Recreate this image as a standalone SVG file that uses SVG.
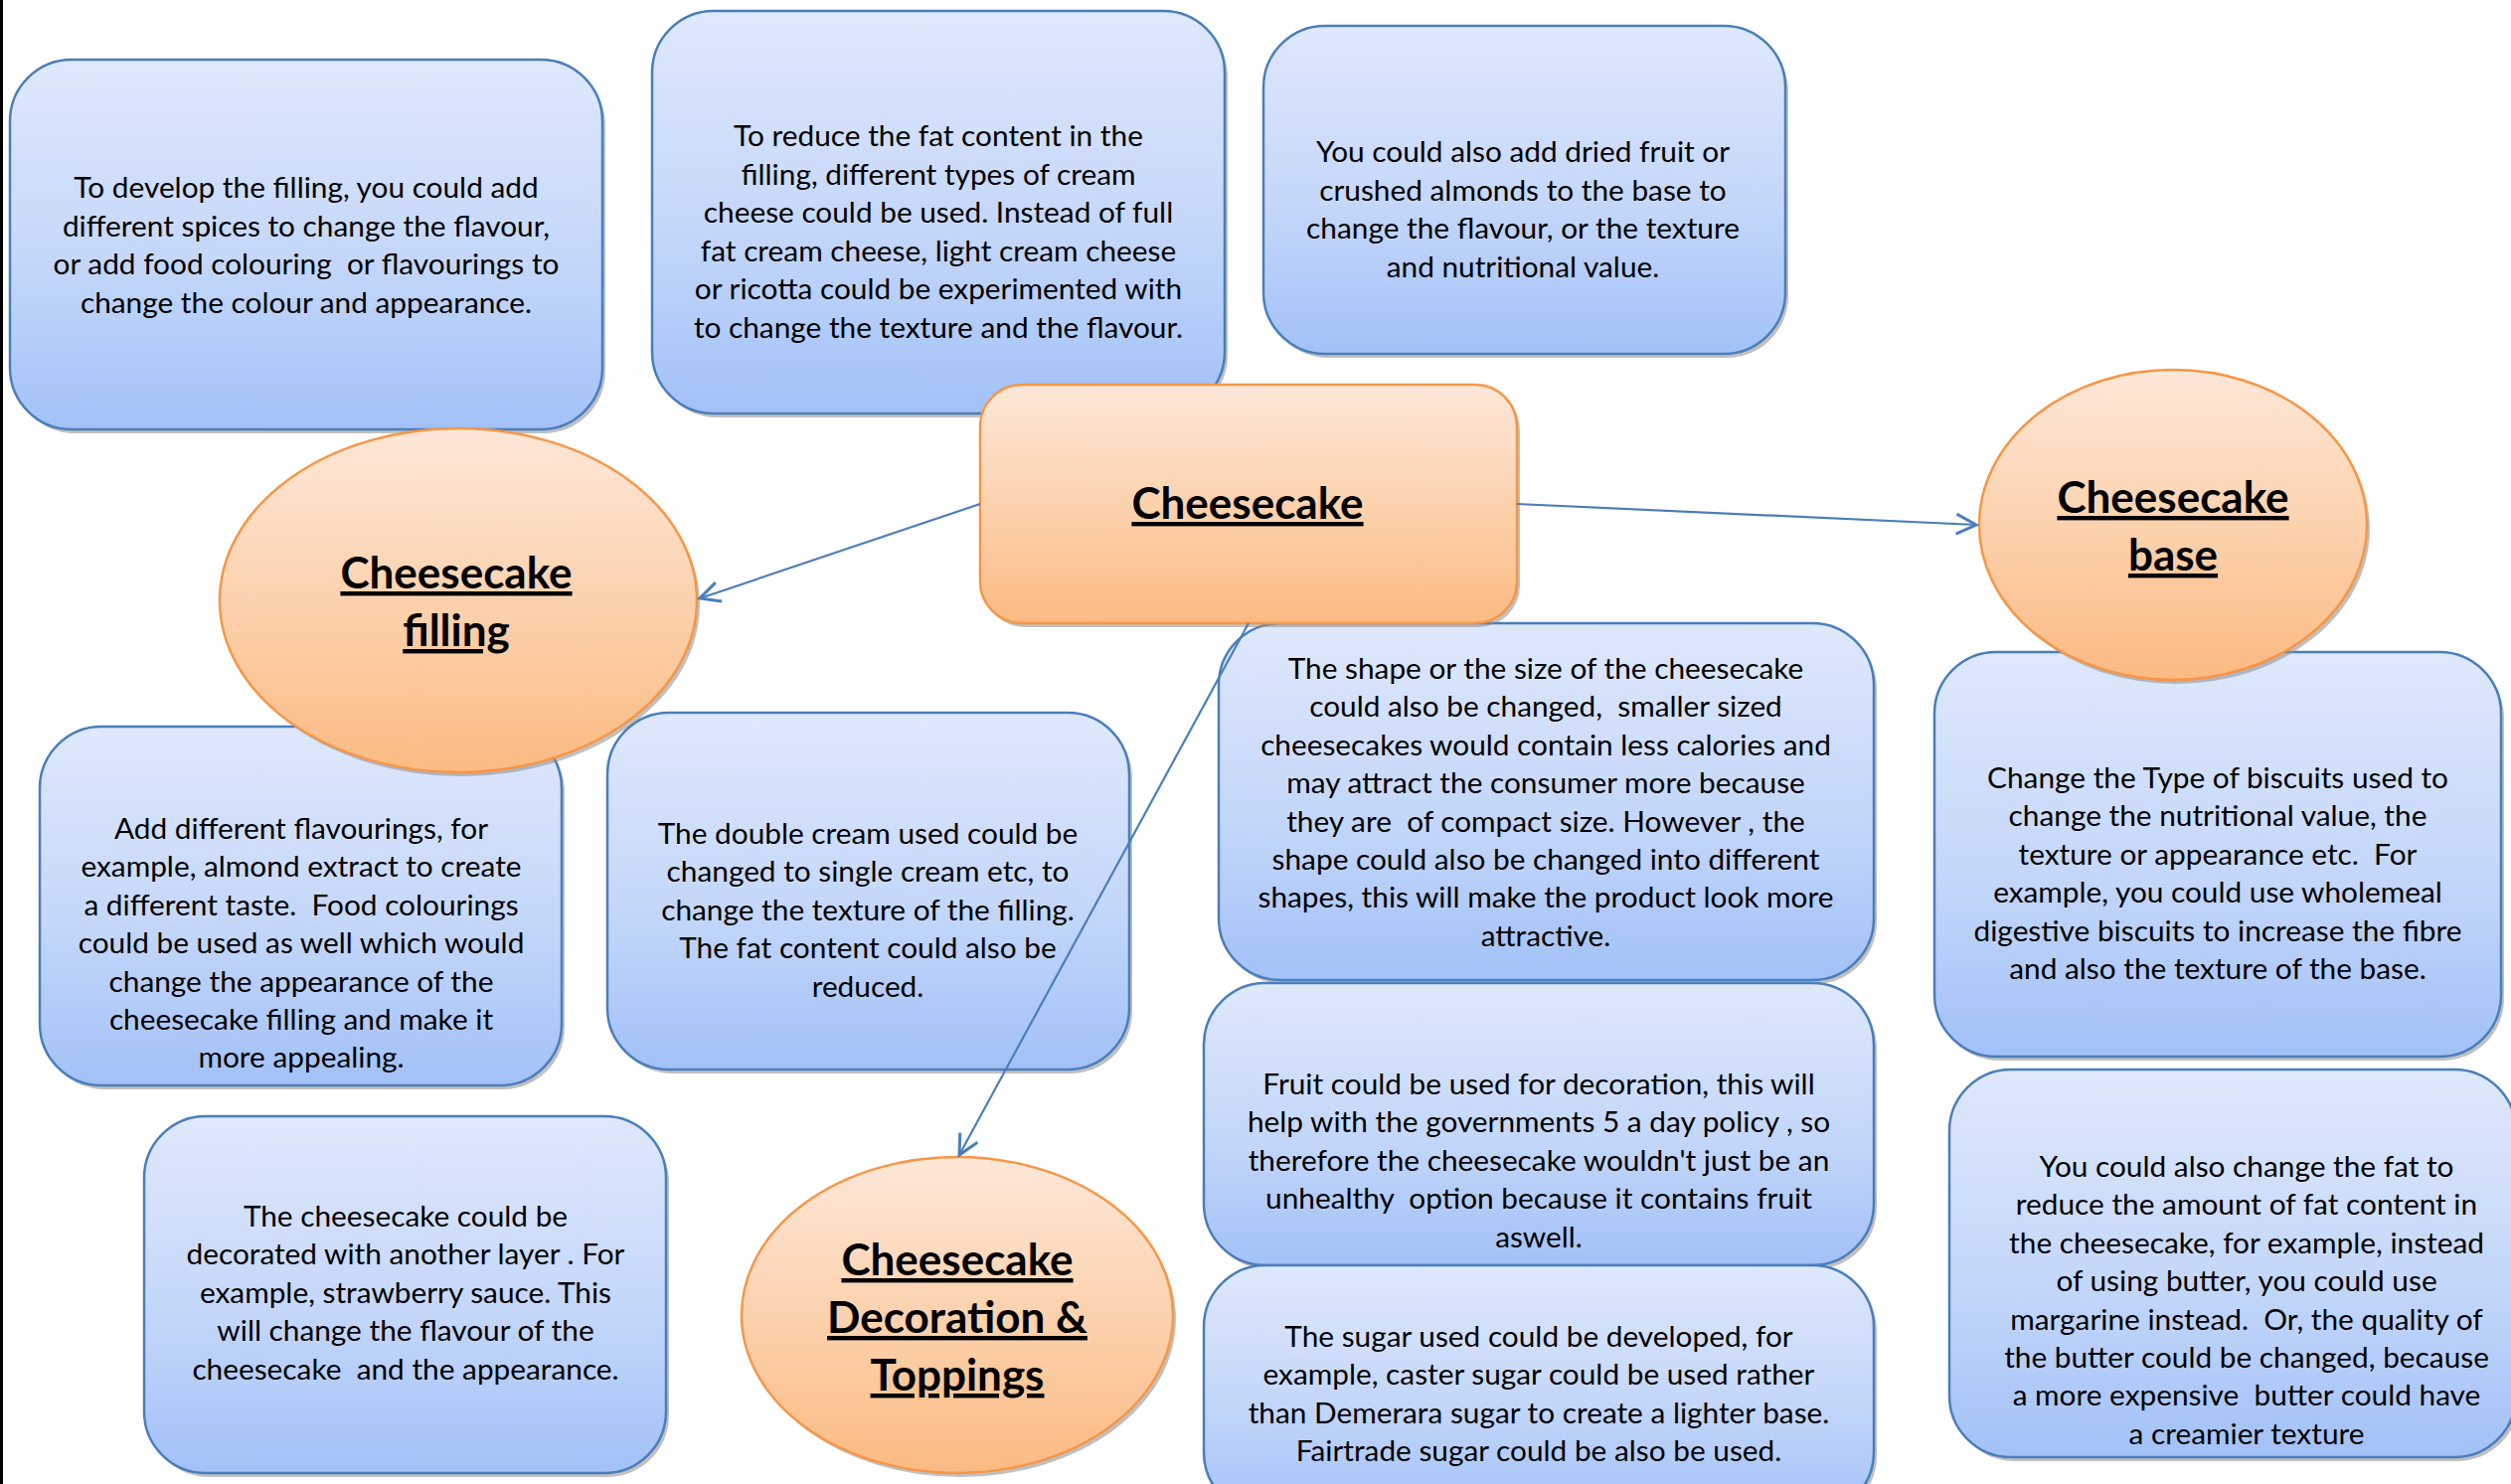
<svg xmlns="http://www.w3.org/2000/svg" width="2526" height="1493" viewBox="0 0 2526 1493">
<defs>
<linearGradient id="gb" x1="0" y1="0" x2="0" y2="1">
<stop offset="0" stop-color="#dfe8fb"/>
<stop offset="0.55" stop-color="#c4d7fa"/>
<stop offset="1" stop-color="#a2c1f7"/>
</linearGradient>
<linearGradient id="go" x1="0" y1="0" x2="0" y2="1">
<stop offset="0" stop-color="#fde7d8"/>
<stop offset="0.55" stop-color="#fcd0aa"/>
<stop offset="1" stop-color="#fbba82"/>
</linearGradient>
<marker id="arr" markerUnits="userSpaceOnUse" markerWidth="30" markerHeight="30" refX="22" refY="12" orient="auto" viewBox="0 0 30 24">
<path d="M2,2 L22,12 L2,22" fill="none" stroke="#4a7ebb" stroke-width="3"/>
</marker>
</defs>
<style>
.bx{fill:url(#gb);stroke:#4a7ebb;stroke-width:2.5}
.or{fill:url(#go);stroke:#f79646;stroke-width:2.5}
.sh{fill:#8c8c8c;opacity:0.55}
.t{font-family:Lato,"Liberation Sans",sans-serif;font-size:29.8px;fill:#000;text-anchor:middle;white-space:pre}
.h{font-family:Lato,"Liberation Sans",sans-serif;font-size:44px;font-weight:bold;fill:#000;text-anchor:middle;text-decoration:underline}
.cn{fill:none;stroke:#4a7ebb;stroke-width:2.2;marker-end:url(#arr)}
</style>
<rect width="2526" height="1493" fill="#fff"/>
<rect x="0" y="0" width="3" height="1493" fill="#000"/>

<g id="box-develop-filling">
<rect class="sh" x="13" y="64" width="596" height="372" rx="62"/>
<rect class="bx" x="10" y="60" width="596" height="372" rx="62"/>
<text class="t"><tspan x="308" y="199">To develop the filling, you could add</tspan><tspan x="308" y="237.6">different spices to change the flavour,</tspan><tspan x="308" y="276.2">or add food colouring  or flavourings to</tspan><tspan x="308" y="314.8">change the colour and appearance.</tspan></text>
</g>

<g id="box-reduce-fat">
<rect class="sh" x="659" y="15" width="576" height="405" rx="62"/>
<rect class="bx" x="656" y="11" width="576" height="405" rx="62"/>
<text class="t"><tspan x="944" y="147">To reduce the fat content in the</tspan><tspan x="944" y="185.6">filling, different types of cream</tspan><tspan x="944" y="224.2">cheese could be used. Instead of full</tspan><tspan x="944" y="262.8">fat cream cheese, light cream cheese</tspan><tspan x="944" y="301.4">or ricotta could be experimented with</tspan><tspan x="944" y="340">to change the texture and the flavour.</tspan></text>
</g>

<g id="box-dried-fruit">
<rect class="sh" x="1274" y="30" width="525" height="330" rx="62"/>
<rect class="bx" x="1271" y="26" width="525" height="330" rx="62"/>
<text class="t"><tspan x="1532" y="163">You could also add dried fruit or</tspan><tspan x="1532" y="201.6">crushed almonds to the base to</tspan><tspan x="1532" y="240.2">change the flavour, or the texture</tspan><tspan x="1532" y="278.8">and nutritional value.</tspan></text>
</g>

<g id="box-flavourings">
<rect class="sh" x="43" y="735" width="525" height="361" rx="62"/>
<rect class="bx" x="40" y="731" width="525" height="361" rx="62"/>
<text class="t"><tspan x="303" y="844">Add different flavourings, for</tspan><tspan x="303" y="882.4">example, almond extract to create</tspan><tspan x="303" y="920.8">a different taste.  Food colourings</tspan><tspan x="303" y="959.2">could be used as well which would</tspan><tspan x="303" y="997.6">change the appearance of the</tspan><tspan x="303" y="1036">cheesecake filling and make it</tspan><tspan x="303" y="1074.4">more appealing.</tspan></text>
</g>

<g id="box-double-cream">
<rect class="sh" x="614" y="721" width="525" height="359" rx="62"/>
<rect class="bx" x="611" y="717" width="525" height="359" rx="62"/>
<text class="t"><tspan x="873" y="849">The double cream used could be</tspan><tspan x="873" y="887.4">changed to single cream etc, to</tspan><tspan x="873" y="925.8">change the texture of the filling.</tspan><tspan x="873" y="964.2">The fat content could also be</tspan><tspan x="873" y="1002.6">reduced.</tspan></text>
</g>

<g id="box-decorated-layer">
<rect class="sh" x="148" y="1127" width="525" height="359" rx="62"/>
<rect class="bx" x="145" y="1123" width="525" height="359" rx="62"/>
<text class="t"><tspan x="408" y="1234">The cheesecake could be</tspan><tspan x="408" y="1272.4">decorated with another layer . For</tspan><tspan x="408" y="1310.8">example, strawberry sauce. This</tspan><tspan x="408" y="1349.2">will change the flavour of the</tspan><tspan x="408" y="1387.6">cheesecake  and the appearance.</tspan></text>
</g>

<g id="box-shape-size">
<rect class="sh" x="1229" y="631" width="659" height="359" rx="62"/>
<rect class="bx" x="1226" y="627" width="659" height="359" rx="62"/>
<text class="t"><tspan x="1555" y="683">The shape or the size of the cheesecake</tspan><tspan x="1555" y="721.4">could also be changed,  smaller sized</tspan><tspan x="1555" y="759.8">cheesecakes would contain less calories and</tspan><tspan x="1555" y="798.2">may attract the consumer more because</tspan><tspan x="1555" y="836.6">they are  of compact size. However , the</tspan><tspan x="1555" y="875">shape could also be changed into different</tspan><tspan x="1555" y="913.4">shapes, this will make the product look more</tspan><tspan x="1555" y="951.8">attractive.</tspan></text>
</g>

<g id="box-fruit-decoration">
<rect class="sh" x="1214" y="993" width="674" height="284" rx="62"/>
<rect class="bx" x="1211" y="989" width="674" height="284" rx="62"/>
<text class="t"><tspan x="1548" y="1101">Fruit could be used for decoration, this will</tspan><tspan x="1548" y="1139.4">help with the governments 5 a day policy , so</tspan><tspan x="1548" y="1177.8">therefore the cheesecake wouldn't just be an</tspan><tspan x="1548" y="1216.2">unhealthy  option because it contains fruit</tspan><tspan x="1548" y="1254.6">aswell.</tspan></text>
</g>

<g id="box-sugar">
<rect class="sh" x="1214" y="1277" width="674" height="250" rx="62"/>
<rect class="bx" x="1211" y="1273" width="674" height="250" rx="62"/>
<text class="t"><tspan x="1548" y="1355">The sugar used could be developed, for</tspan><tspan x="1548" y="1393.4">example, caster sugar could be used rather</tspan><tspan x="1548" y="1431.8">than Demerara sugar to create a lighter base.</tspan><tspan x="1548" y="1470.2">Fairtrade sugar could be also be used.</tspan></text>
</g>

<g id="box-biscuits">
<rect class="sh" x="1949" y="660" width="570" height="407" rx="62"/>
<rect class="bx" x="1946" y="656" width="570" height="407" rx="62"/>
<text class="t"><tspan x="2231" y="793">Change the Type of biscuits used to</tspan><tspan x="2231" y="831.4">change the nutritional value, the</tspan><tspan x="2231" y="869.8">texture or appearance etc.  For</tspan><tspan x="2231" y="908.2">example, you could use wholemeal</tspan><tspan x="2231" y="946.6">digestive biscuits to increase the fibre</tspan><tspan x="2231" y="985">and also the texture of the base.</tspan></text>
</g>

<g id="box-fat">
<rect class="sh" x="1964" y="1080" width="570" height="390" rx="62"/>
<rect class="bx" x="1961" y="1076" width="570" height="390" rx="62"/>
<text class="t"><tspan x="2260" y="1184">You could also change the fat to</tspan><tspan x="2260" y="1222.4">reduce the amount of fat content in</tspan><tspan x="2260" y="1260.8">the cheesecake, for example, instead</tspan><tspan x="2260" y="1299.2">of using butter, you could use</tspan><tspan x="2260" y="1337.6">margarine instead.  Or, the quality of</tspan><tspan x="2260" y="1376">the butter could be changed, because</tspan><tspan x="2260" y="1414.4">a more expensive  butter could have</tspan><tspan x="2260" y="1452.8">a creamier texture</tspan></text>
</g>

<g id="node-cheesecake">
<rect class="sh" x="989" y="391" width="540" height="240" rx="42"/>
<rect class="or" x="986" y="387" width="540" height="240" rx="42"/>
<text class="h" x="1255" y="522">Cheesecake</text>
</g>

<g id="node-filling">
<ellipse class="sh" cx="464" cy="608" rx="240" ry="173"/>
<ellipse class="or" cx="461" cy="604" rx="240" ry="173"/>
<text class="h"><tspan x="459" y="592">Cheesecake</tspan><tspan x="459" y="650">filling</tspan></text>
</g>

<g id="node-base">
<ellipse class="sh" cx="2189" cy="532" rx="195" ry="156"/>
<ellipse class="or" cx="2186" cy="528" rx="195" ry="156"/>
<text class="h"><tspan x="2186" y="516">Cheesecake</tspan><tspan x="2186" y="574">base</tspan></text>
</g>

<g id="node-decoration">
<ellipse class="sh" cx="966" cy="1327" rx="217" ry="159"/>
<ellipse class="or" cx="963" cy="1323" rx="217" ry="159"/>
<text class="h"><tspan x="963" y="1283">Cheesecake</tspan><tspan x="963" y="1341">Decoration &amp;</tspan><tspan x="963" y="1399">Toppings</tspan></text>
</g>

<g id="connectors">
<line class="cn" x1="986" y1="507" x2="704" y2="602"/>
<line class="cn" x1="1526" y1="507" x2="1988" y2="528"/>
<line class="cn" x1="1256" y1="627" x2="965" y2="1162"/>
</g>
</svg>
